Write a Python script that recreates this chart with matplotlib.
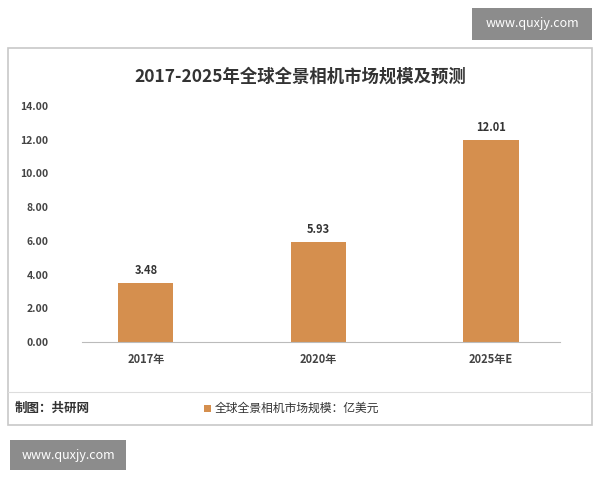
import matplotlib
matplotlib.use("Agg")
import matplotlib.pyplot as plt
from matplotlib.patches import Rectangle

plt.rcParams['font.family'] = ['Noto Sans CJK SC', 'DejaVu Sans']

categories = ["2017年", "2020年", "2025年E"]
values = [3.48, 5.93, 12.01]
yticks = [0, 2, 4, 6, 8, 10, 12, 14]
title = "2017-2025年全球全景相机市场规模及预测"
legend_label = "全球全景相机市场规模：亿美元"
source = "制图：共研网"
site = "www.quxjy.com"
bar_color = "#D58F4E"

W, H = 600, 480
fig = plt.figure(figsize=(6, 4.8), dpi=100)
fig.patch.set_facecolor("white")

def fx(x): return x / W
def fy(y): return 1 - y / H

# frame
fig.patches.append(Rectangle((fx(8), fy(425)), fx(584), 377 / H, transform=fig.transFigure,
                             fill=False, edgecolor="#c8c8c8", linewidth=1.2))
fig.add_artist(plt.Line2D([fx(8), fx(592)], [fy(392), fy(392)], color="#dddddd", lw=0.8))

# site boxes
fig.patches.append(Rectangle((fx(472), fy(40)), fx(120), 32 / H, transform=fig.transFigure,
                             facecolor="#8c8c8c", edgecolor="none"))
fig.text(fx(532), fy(24), site, color="white", fontsize=9, ha="center", va="center")
fig.patches.append(Rectangle((fx(10), fy(470)), fx(116), 30 / H, transform=fig.transFigure,
                             facecolor="#8c8c8c", edgecolor="none"))
fig.text(fx(68), fy(455), site, color="white", fontsize=9, ha="center", va="center")

fig.text(fx(300), fy(77), title, fontsize=12.5, fontweight="bold", ha="center", va="center", color="#333333")

ax = fig.add_axes([fx(82), fy(342), (560 - 82) / W, (342 - 106) / H])
x = list(range(len(categories)))
ax.bar(x, values, width=0.32, color=bar_color, zorder=2)
for xi, v in zip(x, values):
    ax.text(xi, v + 0.35, f"{v:.2f}", ha="center", va="bottom", fontsize=8, fontweight="bold", color="#333333")
ax.set_xlim(-0.37, 2.4)
ax.set_ylim(0, 14)
ax.set_yticks(yticks)
ax.set_yticklabels([f"{t:.2f}" for t in yticks], fontsize=7.5, fontweight="bold", color="#444444")
ax.set_xticks(x)
ax.set_xticklabels(categories, fontsize=8, fontweight="bold", color="#444444")
ax.tick_params(length=0, pad=8)
ax.tick_params(axis="y", pad=24)
for s in ["top", "right", "left"]:
    ax.spines[s].set_visible(False)
ax.spines["bottom"].set_color("#bbbbbb")
ax.patch.set_alpha(0)

fig.text(fx(15), fy(408), source, fontsize=9, fontweight="bold", ha="left", va="center", color="#333333")
fig.patches.append(Rectangle((fx(204), fy(412)), fx(7), 7 / H, transform=fig.transFigure,
                             facecolor=bar_color, edgecolor="none"))
fig.text(fx(215), fy(408), legend_label, fontsize=8.5, ha="left", va="center", color="#333333")

fig.savefig("out.png", dpi=100)
